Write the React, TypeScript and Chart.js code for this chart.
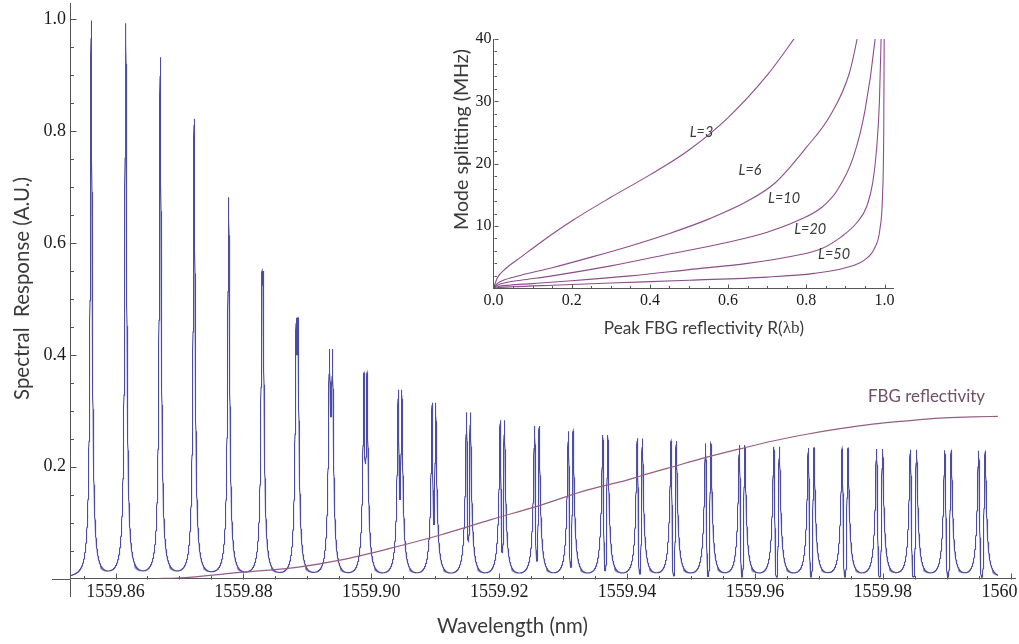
import { useEffect, useRef } from 'react';
import { Chart, registerables } from 'chart.js';

Chart.register(...registerables);

// ---------------- data: main spectrum (peak table) ----------------
const peakCenters = [
  1559.8562, 1559.8616, 1559.867, 1559.8723, 1559.8777, 1559.883, 1559.8884, 1559.8937, 1559.8991,
  1559.9045, 1559.9098, 1559.9152, 1559.9205, 1559.9259, 1559.9312, 1559.9366, 1559.942, 1559.9473,
  1559.9527, 1559.958, 1559.9634, 1559.9688, 1559.9741, 1559.9795, 1559.9848, 1559.9902, 1559.9955,
];
const peakHeights = [
  0.995, 0.989, 0.928, 0.818, 0.678, 0.547, 0.464, 0.409, 0.367, 0.337, 0.314, 0.297, 0.283, 0.273,
  0.264, 0.257, 0.251, 0.246, 0.242, 0.239, 0.236, 0.234, 0.233, 0.232, 0.231, 0.23, 0.23,
];
// doublet splitting of each mode (nm)
const peakSplits = [
  0, 0, 0, 0, 0, 0.00016, 0.00027, 0.00047, 0.00047, 0.00052, 0.00053, 0.00059, 0.00063, 0.00069,
  0.00072, 0.00077, 0.00078, 0.0008, 0.00083, 0.00084, 0.00086, 0.00088, 0.00091, 0.00094, 0.00097,
  0.001, 0.00103,
];
// lowest value reached between the two lobes of each doublet
const notchMins: (number | null)[] = [
  null, null, null, null, null, 0.52, 0.397, 0.287, 0.203, 0.14, 0.096, 0.066, 0.046, 0.031, 0.02,
  0.014, 0.008, 0.005, 0.004, 0.003, 0.003, 0.003, 0.003, 0.003, 0.003, 0.003, 0.003,
];
const CORE_HW = 0.000172; // half-width of the sharp part of a mode (nm)
const PED_HW = 0.000438; // half-width of the broad foot of a mode (nm)
const PED_AMP = 0.1;
const SPECTRUM_START = 1559.8528;
const SPECTRUM_END = 1559.998;

// FBG reflectivity curve
const fbgWavelengths = [
  1559.8665, 1559.8696, 1559.8795, 1559.8889, 1559.8951, 1559.9029, 1559.9108, 1559.9186, 1559.9264,
  1559.9337, 1559.94, 1559.942, 1559.9472, 1559.9525, 1559.9577, 1559.9628, 1559.9681, 1559.9733,
  1559.9784, 1559.9838, 1559.9889, 1559.9941, 1559.998,
];
const fbgValues = [
  0.0, 0.001, 0.011, 0.021, 0.033, 0.054, 0.078, 0.105, 0.131, 0.158, 0.176, 0.183, 0.2, 0.217, 0.232,
  0.246, 0.258, 0.268, 0.276, 0.282, 0.287, 0.289, 0.29,
];

const xTickValues = [1559.86, 1559.88, 1559.9, 1559.92, 1559.94, 1559.96, 1559.98, 1560.0];
// the last label sits slightly left of its tick in the original (trailing spaces keep it inside the frame)
const xTickLabels = ['1559.86', '1559.88', '1559.90', '1559.92', '1559.94', '1559.96', '1559.98', '1560     '];
const yTickValues = [0.2, 0.4, 0.6, 0.8, 1.0];
const yTickLabels = ['0.2', '0.4', '0.6', '0.8', '1.0'];

// ---------------- data: inset (mode splitting vs peak FBG reflectivity) ----------------
const l3R = [0, 0.01, 0.03, 0.07, 0.13, 0.2, 0.3, 0.4, 0.5, 0.6, 0.7, 0.78];
const l3S = [0, 1.7, 3.1, 5.0, 7.8, 10.8, 14.6, 18.2, 22.2, 27.4, 34.2, 41.0];
const l6R = [0, 0.01, 0.03, 0.07, 0.15, 0.25, 0.35, 0.45, 0.55, 0.65, 0.72, 0.8, 0.86, 0.91, 0.94];
const l6S = [0, 0.8, 1.4, 2.1, 3.3, 5.0, 6.8, 8.8, 11.1, 14.0, 16.9, 22.6, 27.6, 34.5, 43];
const l10R = [0, 0.01, 0.03, 0.07, 0.15, 0.3, 0.45, 0.6, 0.7, 0.78, 0.84, 0.88, 0.92, 0.95, 0.975, 0.985];
const l10S = [0, 0.5, 0.9, 1.3, 2.0, 3.6, 5.5, 7.4, 9.0, 10.9, 13.0, 15.8, 21.0, 28.5, 39.5, 47];
const l20R = [0, 0.01, 0.04, 0.1, 0.2, 0.35, 0.5, 0.65, 0.76, 0.84, 0.89, 0.93, 0.955, 0.97, 0.98, 0.987, 0.992];
const l20S = [0, 0.25, 0.5, 0.75, 1.2, 2.0, 3.0, 4.0, 5.1, 6.4, 8.3, 10.6, 13.2, 17.0, 22.5, 30, 42];
const l50R = [0, 0.01, 0.05, 0.15, 0.3, 0.5, 0.7, 0.82, 0.9, 0.95, 0.975, 0.988, 0.995, 0.998, 0.9995];
const l50S = [0, 0.1, 0.25, 0.5, 0.85, 1.3, 1.8, 2.4, 3.3, 4.6, 6.5, 9.4, 15, 25, 45];
const insetLabels = ['L=3', 'L=6', 'L=10', 'L=20', 'L=50'];
const insetLabelR = [0.532, 0.656, 0.743, 0.81, 0.871];
const insetLabelS = [25.1, 19.0, 14.5, 9.5, 5.5];
const insetXTicks = [0, 0.2, 0.4, 0.6, 0.8, 1.0];
const insetXTickLabels = ['0.0', '0.2', '0.4', '0.6', '0.8', '1.0'];
const insetYTicks = [10, 20, 30, 40];
const insetYTickLabels = ['10', '20', '30', '40'];

// ---------------- helpers ----------------
const SANS = 'Lato, "Open Sans", "Liberation Sans", sans-serif';
const SERIF = '"Liberation Serif", "DejaVu Serif", serif';
const AXIS_COLOR = '#555';
const TEXT_COLOR = '#3a3a3a';
const TICK_COLOR = '#1a1a1a';

function response(x: number): number {
  let sum = 0;
  for (let i = 0; i < peakCenters.length; i++) {
    const d = Math.max(0, Math.abs(x - peakCenters[i]) - peakSplits[i] / 2);
    const core = (peakHeights[i] - PED_AMP) / (1 + (d / CORE_HW) ** 2);
    const ped = PED_AMP / (1 + (d / PED_HW) ** 2);
    sum += core + ped;
  }
  for (let i = 0; i < peakCenters.length; i++) {
    const m = notchMins[i];
    if (m == null || peakSplits[i] <= 0) continue;
    const u = Math.abs(x - peakCenters[i]) / (0.35 * peakSplits[i]);
    if (u > 3) continue;
    const depth = 1 - m / peakHeights[i];
    sum *= 1 - depth * Math.exp(-(u ** 4));
  }
  return sum;
}

function buildSpectrum() {
  const xs: number[] = [];
  const n = 9400;
  for (let k = 0; k <= n; k++) xs.push(SPECTRUM_START + ((SPECTRUM_END - SPECTRUM_START) * k) / n);
  peakCenters.forEach((c) => xs.push(c));
  xs.sort((a, b) => a - b);
  return xs.map((x) => ({ x, y: response(x) }));
}

function pairs(xs: number[], ys: number[]) {
  return xs.map((x, i) => ({ x, y: ys[i] }));
}

function fitFont(ctx: CanvasRenderingContext2D, text: string, width: number, family: string, style = '') {
  ctx.font = `${style} 20px ${family}`;
  const w = ctx.measureText(text).width;
  return (20 * width) / w;
}

function noPad(s: any) {
  s.paddingTop = 0;
  s.paddingBottom = 0;
  s.paddingLeft = 0;
  s.paddingRight = 0;
}

function drawTicks(
  chart: any,
  xMajor: number[],
  xMinor: number[],
  yMajor: number[],
  yMinor: number[],
  majorLen: number,
  minorLen: number,
) {
  const { ctx, chartArea, scales } = chart;
  const y0 = Math.round(chartArea.bottom) + 0.5;
  const x0 = Math.round(chartArea.left) + 0.5;
  ctx.save();
  ctx.strokeStyle = AXIS_COLOR;
  ctx.lineWidth = 1;
  ctx.beginPath();
  const xt = (v: number, len: number) => {
    const p = Math.round(scales.x.getPixelForValue(v)) + 0.5;
    ctx.moveTo(p, y0);
    ctx.lineTo(p, y0 - len);
  };
  const yt = (v: number, len: number) => {
    const p = Math.round(scales.y.getPixelForValue(v)) + 0.5;
    ctx.moveTo(x0, p);
    ctx.lineTo(x0 + len, p);
  };
  xMajor.forEach((v) => xt(v, majorLen));
  xMinor.forEach((v) => xt(v, minorLen));
  yMajor.forEach((v) => yt(v, majorLen));
  yMinor.forEach((v) => yt(v, minorLen));
  ctx.stroke();
  ctx.restore();
}

const mainXMinor: number[] = [];
for (let k = 1; k <= 30; k++) if (k % 4 !== 2) mainXMinor.push(1559.85 + k * 0.005);
const mainYMinor: number[] = [];
for (let k = 1; k <= 20; k++) if (k % 4 !== 0) mainYMinor.push(k * 0.05);
const insetXMinor: number[] = [];
for (let k = 1; k <= 20; k++) if (k % 4 !== 0) insetXMinor.push(k * 0.05);
const insetYMinor: number[] = [];
for (let k = 1; k <= 20; k++) if (k % 5 !== 0) insetYMinor.push(k * 2);

const mainDecor = {
  id: 'mainDecor',
  afterDraw(chart: any) {
    const { ctx, chartArea, scales } = chart;
    drawTicks(chart, xTickValues, mainXMinor, yTickValues, mainYMinor, 6, 3.5);
    // axis extensions beyond the crossing point (Mathematica style)
    ctx.save();
    ctx.strokeStyle = AXIS_COLOR;
    ctx.lineWidth = 1;
    ctx.beginPath();
    const yb = Math.round(chartArea.bottom) + 0.5;
    const xl = Math.round(chartArea.left) + 0.5;
    ctx.moveTo(52, yb);
    ctx.lineTo(xl, yb);
    ctx.moveTo(xl, yb);
    ctx.lineTo(xl, 597);
    ctx.stroke();
    // titles
    ctx.fillStyle = TEXT_COLOR;
    ctx.textAlign = 'center';
    ctx.textBaseline = 'middle';
    const t1 = 'Wavelength (nm)';
    ctx.font = `${fitFont(ctx, t1, 151, SANS)}px ${SANS}`;
    ctx.fillText(t1, 512.5, 626);
    const t2 = 'Spectral  Response (A.U.)';
    ctx.font = `${fitFont(ctx, t2, 223, SANS)}px ${SANS}`;
    ctx.save();
    ctx.translate(22, 288.5);
    ctx.rotate(-Math.PI / 2);
    ctx.fillText(t2, 0, 0);
    ctx.restore();
    const t3 = 'FBG reflectivity';
    ctx.fillStyle = '#6e5068';
    ctx.font = `${fitFont(ctx, t3, 117, SANS)}px ${SANS}`;
    ctx.fillText(t3, scales.x.getPixelForValue(1559.98684), scales.y.getPixelForValue(0.3255));
    ctx.restore();
  },
};

const insetDecor = {
  id: 'insetDecor',
  afterDraw(chart: any) {
    const { ctx, scales } = chart;
    drawTicks(chart, insetXTicks, insetXMinor, insetYTicks, insetYMinor, 4, 2.5);
    ctx.save();
    ctx.fillStyle = TEXT_COLOR;
    ctx.textAlign = 'center';
    ctx.textBaseline = 'middle';
    ctx.font = `italic ${fitFont(ctx, 'L=10', 32, SANS, 'italic')}px ${SANS}`;
    insetLabels.forEach((t, i) => {
      ctx.fillText(t, scales.x.getPixelForValue(insetLabelR[i]), scales.y.getPixelForValue(insetLabelS[i]));
    });
    const ty = 'Mode splitting (MHz)';
    ctx.font = `${fitFont(ctx, ty, 181, SANS)}px ${SANS}`;
    ctx.save();
    ctx.translate(61.7, 119.5);
    ctx.rotate(-Math.PI / 2);
    ctx.fillText(ty, 0, 0);
    ctx.restore();
    // "Peak FBG reflectivity R(λb)"
    const a = 'Peak FBG reflectivity R(';
    const b = 'λb';
    const c = ')';
    const size = fitFont(ctx, a + 'λb)', 202, SANS);
    ctx.textAlign = 'left';
    ctx.font = `${size}px ${SANS}`;
    const wa = ctx.measureText(a).width;
    const wc = ctx.measureText(c).width;
    ctx.font = `${size}px ${SERIF}`;
    const wb = ctx.measureText(b).width;
    let x = 304 - (wa + wb + wc) / 2;
    const y = 308;
    ctx.font = `${size}px ${SANS}`;
    ctx.fillText(a, x, y);
    x += wa;
    ctx.font = `${size}px ${SERIF}`;
    ctx.fillText(b, x, y);
    x += wb;
    ctx.font = `${size}px ${SANS}`;
    ctx.fillText(c, x, y);
    ctx.restore();
  },
};

const MAIN_X_MIN = 1559.85288;
const MAIN_X_MAX = 1560.00068;
const MAIN_Y_MAX = 1.0288;

export default function App() {
  const mainRef = useRef<HTMLCanvasElement>(null);
  const insetRef = useRef<HTMLCanvasElement>(null);

  useEffect(() => {
    if (!mainRef.current || !insetRef.current) return;
    const main = new Chart(mainRef.current, {
      type: 'line',
      data: {
        datasets: [
          {
            label: 'FBG reflectivity',
            data: pairs(fbgWavelengths, fbgValues),
            borderColor: 'rgb(150,95,128)',
            borderWidth: 1.2,
            pointRadius: 0,
            cubicInterpolationMode: 'monotone',
            order: 0,
          },
          {
            label: 'Spectral response',
            data: buildSpectrum(),
            borderColor: 'rgb(76,76,160)',
            borderWidth: 1.1,
            pointRadius: 0,
            tension: 0,
            order: 1,
          },
        ],
      },
      options: {
        animation: false,
        responsive: false,
        events: [],
        parsing: false,
        normalized: true,
        layout: { padding: { left: 0, right: 4, top: 3, bottom: 0 }, autoPadding: false },
        plugins: { legend: { display: false }, tooltip: { enabled: false } },
        scales: {
          x: {
            type: 'linear',
            position: 'bottom',
            min: MAIN_X_MIN,
            max: MAIN_X_MAX,
            afterFit: (s: any) => {
              s.height = 644 - 578.6;
              noPad(s);
            },
            afterBuildTicks: (s: any) => {
              s.ticks = xTickValues.map((v) => ({ value: v }));
            },
            ticks: {
              autoSkip: false,
              maxRotation: 0,
              padding: 3,
              color: TICK_COLOR,
              font: { family: SERIF, size: 18 },
              callback: (v: any) => {
                const i = xTickValues.findIndex((t) => Math.abs(t - v) < 1e-6);
                return i >= 0 ? xTickLabels[i] : '';
              },
            },
            grid: { display: true, drawOnChartArea: false, drawTicks: false },
            border: { display: true, color: AXIS_COLOR, width: 1 },
          },
          y: {
            type: 'linear',
            position: 'left',
            min: 0,
            max: MAIN_Y_MAX,
            afterFit: (s: any) => {
              s.width = 70;
              noPad(s);
            },
            afterBuildTicks: (s: any) => {
              s.ticks = yTickValues.map((v) => ({ value: v }));
            },
            ticks: {
              autoSkip: false,
              padding: 4,
              color: TICK_COLOR,
              font: { family: SERIF, size: 18 },
              callback: (v: any) => {
                const i = yTickValues.findIndex((t) => Math.abs(t - v) < 1e-6);
                return i >= 0 ? yTickLabels[i] : '';
              },
            },
            grid: { display: true, drawOnChartArea: false, drawTicks: false },
            border: { display: true, color: AXIS_COLOR, width: 1 },
          },
        },
      } as any,
      plugins: [mainDecor],
    });

    const curveColor = 'rgb(140,78,140)';
    const curve = (label: string, xs: number[], ys: number[]) => ({
      label,
      data: pairs(xs, ys),
      borderColor: curveColor,
      borderWidth: 1.1,
      pointRadius: 0,
      cubicInterpolationMode: 'monotone' as const,
    });

    const inset = new Chart(insetRef.current, {
      type: 'line',
      data: {
        datasets: [
          curve('L=3', l3R, l3S),
          curve('L=6', l6R, l6S),
          curve('L=10', l10R, l10S),
          curve('L=20', l20R, l20S),
          curve('L=50', l50R, l50S),
        ],
      },
      options: {
        animation: false,
        responsive: false,
        events: [],
        parsing: false,
        layout: { padding: { left: 0, right: 27, top: 19, bottom: 0 }, autoPadding: false },
        plugins: { legend: { display: false }, tooltip: { enabled: false } },
        scales: {
          x: {
            type: 'linear',
            position: 'bottom',
            min: 0,
            max: 1.0217,
            afterFit: (s: any) => {
              s.height = 71.7;
              noPad(s);
            },
            afterBuildTicks: (s: any) => {
              s.ticks = insetXTicks.map((v) => ({ value: v }));
            },
            ticks: {
              autoSkip: false,
              maxRotation: 0,
              padding: 3,
              color: TICK_COLOR,
              font: { family: SERIF, size: 16 },
              callback: (v: any) => {
                const i = insetXTicks.findIndex((t) => Math.abs(t - v) < 1e-6);
                return i >= 0 ? insetXTickLabels[i] : '';
              },
            },
            grid: { display: true, drawOnChartArea: false, drawTicks: false },
            border: { display: true, color: AXIS_COLOR, width: 1 },
          },
          y: {
            type: 'linear',
            position: 'left',
            min: 0,
            max: 40,
            afterFit: (s: any) => {
              s.width = 93.5;
              noPad(s);
            },
            afterBuildTicks: (s: any) => {
              s.ticks = insetYTicks.map((v) => ({ value: v }));
            },
            ticks: {
              autoSkip: false,
              padding: 2,
              color: TICK_COLOR,
              font: { family: SERIF, size: 16 },
              callback: (v: any) => {
                const i = insetYTicks.findIndex((t) => Math.abs(t - v) < 1e-6);
                return i >= 0 ? insetYTickLabels[i] : '';
              },
            },
            grid: { display: true, drawOnChartArea: false, drawTicks: false },
            border: { display: true, color: AXIS_COLOR, width: 1 },
          },
        },
      } as any,
      plugins: [insetDecor],
    });

    return () => {
      main.destroy();
      inset.destroy();
    };
  }, []);

  return (
    <div style={{ position: 'absolute', left: 0, top: 0, width: 1019, height: 644, background: '#fff' }}>
      <canvas ref={mainRef} width={1019} height={644} style={{ position: 'absolute', left: 0, top: 0 }} />
      <canvas ref={insetRef} width={520} height={340} style={{ position: 'absolute', left: 400, top: 20 }} />
    </div>
  );
}
